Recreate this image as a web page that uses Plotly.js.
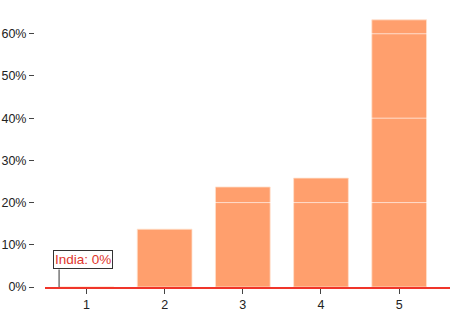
<!DOCTYPE html>
<html>
<head>
<meta charset="utf-8">
<script src="https://cdn.plot.ly/plotly-3.0.1.min.js"></script>
<style>html,body{margin:0;padding:0;background:#fff;}#chart{width:450px;height:311px;}</style>
</head>
<body>
<div id="chart"></div>
<script>
var categories = [1, 2, 3, 4, 5];
var shares = [0, 13.7, 23.7, 25.8, 63.3];
var yTicks = [0, 10, 20, 30, 40, 50, 60];
var yTickLabels = yTicks.map(function (v) { return v + '%'; });
var gridVals = [20, 40, 60];
var noteText = 'India: 0%';
var noteX = 0.65;

var trace = {
  type: 'bar',
  x: categories,
  y: shares,
  width: 0.7,
  marker: {color: '#ff9f6d', line: {color: 'rgba(255,225,205,0.8)', width: 1}},
  hoverinfo: 'none'
};

var shapes = gridVals.map(function (v) {
  return {type: 'line', xref: 'paper', yref: 'y', x0: 0, x1: 1, y0: v, y1: v,
          layer: 'above', line: {color: 'rgba(255,255,255,0.65)', width: 1}};
});

var layout = {
  width: 450, height: 311,
  margin: {l: 34, r: 0, t: 0, b: 24},
  paper_bgcolor: '#fff', plot_bgcolor: '#fff',
  font: {family: 'Liberation Sans, Arial, sans-serif', size: 12.5, color: '#222'},
  showlegend: false,
  xaxis: {
    domain: [11 / 416, 1],
    range: [0.47, 5.65],
    tickvals: categories,
    ticks: 'outside', ticklen: 5, tickcolor: '#444', tickwidth: 1,
    showgrid: false, zeroline: false,
    showline: true, linecolor: '#f0352a', linewidth: 2,
    layer: 'above traces',
    fixedrange: true
  },
  yaxis: {
    anchor: 'free', position: 0,
    range: [0, 68],
    tickmode: 'array',
    tickvals: yTicks,
    ticktext: yTickLabels,
    ticks: 'outside', ticklen: 5, tickcolor: '#444', tickwidth: 1,
    showgrid: false, zeroline: false, showline: false,
    fixedrange: true
  },
  shapes: shapes,
  annotations: [
    {x: noteX, y: 0, xref: 'x', yref: 'y', text: noteText, showarrow: false,
     xanchor: 'left', yanchor: 'bottom', xshift: -6, yshift: 18,
     bordercolor: '#333', borderwidth: 1, borderpad: 1, bgcolor: '#fff',
     font: {color: '#e0352b', size: 13.5}},
    {x: noteX, y: 0, xref: 'x', yref: 'y', text: '', showarrow: true,
     arrowhead: 0, arrowwidth: 1, arrowcolor: '#333', ax: 0, ay: -19, standoff: 0}
  ]
};

Plotly.newPlot('chart', [trace], layout, {displayModeBar: false, staticPlot: true});
</script>
</body>
</html>
